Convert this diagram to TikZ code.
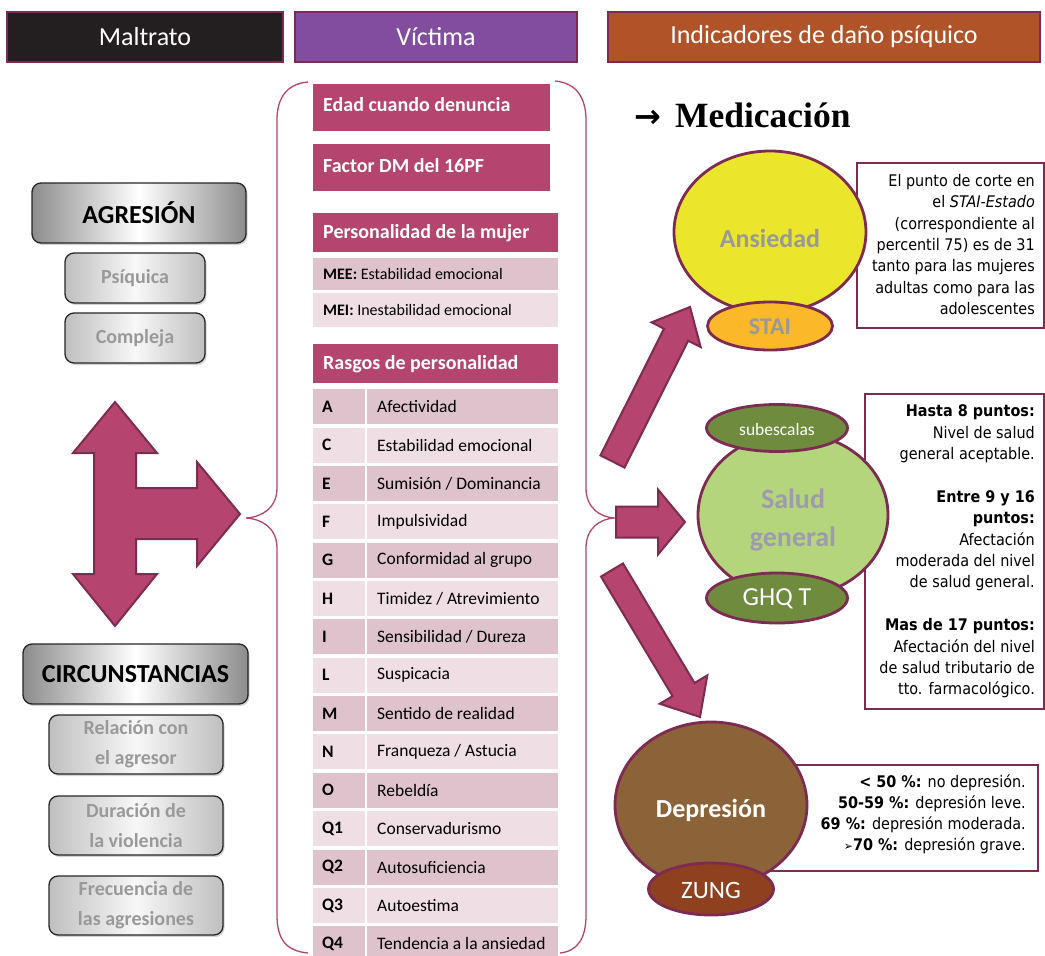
\documentclass[tikz,border=0pt]{standalone}
\usepackage{fontspec}
\setmainfont{Carlito}
\newfontfamily\tah[FakeStretch=0.9]{DejaVu Sans}
\newfontfamily\dvs{DejaVu Sans}
\newfontfamily\tms{Liberation Serif}
\usetikzlibrary{shapes.geometric,calc,shadows}
\definecolor{mar}{HTML}{7D2B52}
\definecolor{pk}{HTML}{B5446E}
\definecolor{rowd}{HTML}{DEC3CD}
\definecolor{rowl}{HTML}{EFDFE5}
\definecolor{hdblack}{HTML}{231F20}
\definecolor{hdpurple}{HTML}{834D9F}
\definecolor{hdorange}{HTML}{B05328}
\definecolor{yel}{HTML}{EBE52C}
\definecolor{staic}{HTML}{FBB829}
\definecolor{salud}{HTML}{B4D57B}
\definecolor{grn}{HTML}{6E8B3E}
\definecolor{brn}{HTML}{8C6239}
\definecolor{zung}{HTML}{8E401F}
\definecolor{gtx}{HTML}{999999}
\definecolor{sgtx}{HTML}{9E9BAF}
\newcommand{\blockarr}[5]{%
  \coordinate (hb) at ($(#2)!#5!(#1)$);
  \draw[barrow] ($(#1)!#3!90:(#2)$) -- ($(hb)!#3!-90:(#1)$) -- ($(hb)!#4!-90:(#1)$) -- (#2)
     -- ($(hb)!#4!90:(#1)$) -- ($(hb)!#3!90:(#1)$) -- ($(#1)!#3!-90:(#2)$) -- cycle;}
\tikzset{
  hdr/.style={draw=mar, line width=2pt, text=white, inner sep=0pt, font=\fontsize{26}{30}\selectfont},
  gbig/.style={draw=black!85, line width=1.3pt, rounded corners=9pt, left color=black!45, right color=black!45, middle color=white,
     drop shadow={shadow xshift=1.5pt, shadow yshift=-2pt, opacity=.35}, inner sep=0pt, font=\bfseries\fontsize{26}{30}\selectfont},
  gsmall/.style={draw=black!85, line width=1.3pt, rounded corners=9pt, left color=black!25, right color=black!25, middle color=black!3,
     drop shadow={shadow xshift=1.5pt, shadow yshift=-2pt, opacity=.35}, inner sep=0pt, text=gtx, align=center,
     font=\bfseries\fontsize{20}{30}\selectfont},
  barrow/.style={fill=pk, draw=mar, line width=2pt, line join=miter},
  pkbox/.style={fill=pk, anchor=north west, inner sep=0pt},
  pktext/.style={text=white, anchor=west, inner sep=0pt, font=\bfseries\fontsize{20}{24}\selectfont},
  cellbox/.style={anchor=north west, inner sep=0pt, minimum height=35pt},
  celltext/.style={anchor=west, inner sep=0pt, font=\fontsize{17.5}{20}\selectfont},
  brace/.style={draw=pk, line width=1.3pt},
  circ/.style={ellipse, draw=mar, line width=2.8pt, inner sep=0pt},
  tbox/.style={draw=mar, line width=1.5pt, fill=white, inner sep=0pt},
  rtext/.style={align=right, inner sep=0pt, anchor=east, font=\tah\fontsize{16}{21.4}\selectfont}
}
\begin{document}
\begin{tikzpicture}[x=1pt,y=-1pt]
\useasboundingbox (0,0) rectangle (1045,956);
% headers
\node[hdr, fill=hdblack, minimum width=276pt, minimum height=50pt] (h1) at (145,37) {Maltrato};
\node[hdr, fill=hdpurple, minimum width=282pt, minimum height=50pt] (h2) at (436,37) {Víctima};
\node[hdr, fill=hdorange, minimum width=432pt, minimum height=50pt] (h3) at (824,37) {Indicadores de daño psíquico};
% left column
\node[gbig, minimum width=214pt, minimum height=60pt] (agr) at (139,213) {AGRESIÓN};
\node[gsmall, minimum width=140pt, minimum height=50pt] (psi) at (135,278) {Psíquica};
\node[gsmall, minimum width=140pt, minimum height=50pt] (com) at (135,338) {Compleja};
\node[gbig, minimum width=225pt, minimum height=60pt] (cir) at (135.5,674) {CIRCUNSTANCIAS};
\node[gsmall, minimum width=174pt, minimum height=59pt] (rel) at (136,744.5) {Relación con\\el agresor};
\node[gsmall, minimum width=174pt, minimum height=59pt] (dur) at (136,825.5) {Duración de\\la violencia};
\node[gsmall, minimum width=174pt, minimum height=59pt] (fre) at (136,905.5) {Frecuencia de\\las agresiones};
% three-way arrow
\draw[barrow] (115,402) -- (157,453) -- (136,453) -- (136,488) -- (197,488) -- (197,462) -- (240,514)
  -- (197,566) -- (197,539) -- (136,539) -- (136,574) -- (157,574) -- (115,626) -- (73,574) -- (94,574)
  -- (94,453) -- (73,453) -- cycle;
% braces
\coordinate (bl) at (246,518);
\coordinate (br) at (614,518);
\draw[brace] (308,82) .. controls (285,84) and (277,100) .. (277,120) -- (277,488)
  .. controls (277,508) and (262,517) .. (bl) .. controls (262,519) and (277,528) .. (277,548)
  -- (277,915) .. controls (277,938) and (285,951) .. (308,953);
\draw[brace] (555,81) .. controls (578,83) and (586,100) .. (586,120) -- (586,488)
  .. controls (586,508) and (600,517) .. (br) .. controls (600,519) and (586,528) .. (586,548)
  -- (586,915) .. controls (586,938) and (578,951) .. (560,953);
% victim column
\node[pkbox, minimum width=237pt, minimum height=47pt] (edad) at (313,84) {};
\node[pktext] (edadT) at ($(edad.west)+(10pt,3pt)$) {Edad cuando denuncia};
\node[pkbox, minimum width=237pt, minimum height=47pt] (fdm) at (313,144) {};
\node[pktext] (fdmT) at ($(fdm.west)+(10pt,2.5pt)$) {Factor DM del 16PF};
\node[pkbox, minimum width=245pt, minimum height=39pt] (pers) at (313,213) {};
\node[pktext] (persT) at ($(pers.west)+(10pt,0)$) {Personalidad de la mujer};
\node[cellbox, fill=rowd, minimum width=245pt, minimum height=32pt] (mee) at (313,258) {};
\node[celltext, font=\fontsize{16}{19}\selectfont] (meeT) at ($(mee.west)+(10pt,0)$) {\textbf{MEE:} Estabilidad emocional};
\node[cellbox, fill=rowl, minimum width=245pt, minimum height=34pt] (mei) at (313,292.5) {};
\node[celltext, font=\fontsize{16}{19}\selectfont] (meiT) at ($(mei.west)+(10pt,0)$) {\textbf{MEI:} Inestabilidad emocional};
\node[pkbox, minimum width=245pt, minimum height=39pt] (rasg) at (313,344) {};
\node[pktext] (rasgT) at ($(rasg.west)+(10pt,0)$) {Rasgos de personalidad};
\foreach \L/\T [count=\i from 0] in {A/{Afectividad}, C/{Estabilidad emocional}, E/{Sumisión / Dominancia},
   F/{Impulsividad}, G/{Conformidad al grupo}, H/{Timidez / Atrevimiento}, I/{Sensibilidad / Dureza},
   L/{Suspicacia}, M/{Sentido de realidad}, N/{Franqueza / Astucia}, O/{Rebeldía}, Q1/{Conservadurismo},
   Q2/{Autosuficiencia}, Q3/{Autoestima}, Q4/{Tendencia a la ansiedad}} {
  \pgfmathsetmacro\yy{389+38.36*\i}
  \ifodd\i \def\cc{rowl}\else\def\cc{rowd}\fi
  \node[cellbox, fill=\cc, minimum width=52pt] (rl\i) at (313,\yy) {};
  \node[cellbox, fill=\cc, minimum width=191pt] (rt\i) at (367,\yy) {};
  \node[celltext, font=\bfseries\fontsize{17.5}{20}\selectfont] (rlT\i) at ($(rl\i.west)+(9pt,0)$) {\L};
  \node[celltext] (rtT\i) at ($(rt\i.west)+(10pt,0)$) {\T};
}
% Medicacion
\node[anchor=base west, inner sep=0pt, font=\tms\bfseries\fontsize{35.5}{40}\selectfont] (med) at (634,127) {{\dvs\bfseries\fontsize{32}{40}\selectfont →}\hspace{14pt}Medicación};
% Ansiedad
\node[tbox, anchor=north west, minimum width=187pt, minimum height=165pt] (b1) at (856,162) {};
\node[circ, fill=yel, minimum width=192pt, minimum height=162pt] (ans) at (770,232) {};
\node[text=gtx, font=\bfseries\fontsize{26}{30}\selectfont, inner sep=0pt] (ansT) at (770,238) {Ansiedad};
\node[circ, fill=staic, minimum width=125pt, minimum height=48pt] (stai) at (770,326) {};
\node[text=gtx, font=\bfseries\fontsize{24}{28}\selectfont, inner sep=0pt] (staiT) at (770,327) {STAI};
\node[rtext] (b1T) at (1035,244.5) {El punto de corte en\\el \textit{STAI-Estado}\\(correspondiente al\\percentil 75) es de 31\\tanto para las mujeres\\adultas como para las\\adolescentes};
% Salud general
\node[tbox, anchor=north west, minimum width=179pt, minimum height=315pt] (b2) at (864,393) {};
\node[circ, fill=salud, minimum width=190pt, minimum height=164pt] (sal) at (793,515) {};
\node[text=sgtx, align=center, font=\bfseries\fontsize{28}{38}\selectfont, inner sep=0pt] (salT) at (793,520) {Salud\\general};
\node[circ, fill=grn, minimum width=141pt, minimum height=47pt] (sub) at (777,428) {};
\node[text=white, font=\fontsize{17.5}{20}\selectfont, inner sep=0pt] (subT) at (777,429) {subescalas};
\node[circ, fill=grn, minimum width=141pt, minimum height=50pt] (ghq) at (777,598) {};
\node[text=white, font=\fontsize{26}{30}\selectfont, inner sep=0pt] (ghqT) at (777,599) {GHQ T};
\node[rtext] (b2T) at (1035,551.5) {\textbf{Hasta 8 puntos:}\\Nivel de salud\\general aceptable.\\[21.4pt]\textbf{Entre 9 y 16}\\\textbf{puntos:}\\Afectación\\moderada del nivel\\de salud general.\\[21.4pt]\textbf{Mas de 17 puntos:}\\Afectación del nivel\\de salud tributario de\\tto. farmacológico.};
% Depresion
\node[tbox, anchor=north west, minimum width=277pt, minimum height=106pt] (b3) at (760,764) {};
\node[circ, fill=brn, minimum width=192pt, minimum height=166pt] (dep) at (711,805) {};
\node[text=white, font=\bfseries\fontsize{26}{30}\selectfont, inner sep=0pt] (depT) at (711,810) {Depresión};
\node[circ, fill=zung, minimum width=125pt, minimum height=52pt] (zng) at (711,889) {};
\node[text=white, font=\fontsize{25}{30}\selectfont, inner sep=0pt] (zngT) at (711,890) {ZUNG};
\node[rtext, font=\tah\fontsize{16}{21}\selectfont] (b3T) at (1026,814.5) {\textbf{< 50 \%:} no depresión.\\\textbf{50-59 \%:} depresión leve.\\\textbf{69 \%:} depresión moderada.\\{\fontsize{12}{14}\selectfont ➢}\textbf{70 \%:} depresión grave.};
% block arrows from brace
\coordinate (t1) at (612.5,461.5); \coordinate (p1) at (690,307);
\coordinate (t2) at (616,522);     \coordinate (p2) at (685,522);
\coordinate (t3) at (612,570);     \coordinate (p3) at (700,717);
\blockarr{t1}{p1}{13.5pt}{27.5pt}{31pt}
\blockarr{t2}{p2}{15.5pt}{32.5pt}{27pt}
\blockarr{t3}{p3}{12.8pt}{27.7pt}{32pt}
\end{tikzpicture}
\end{document}
